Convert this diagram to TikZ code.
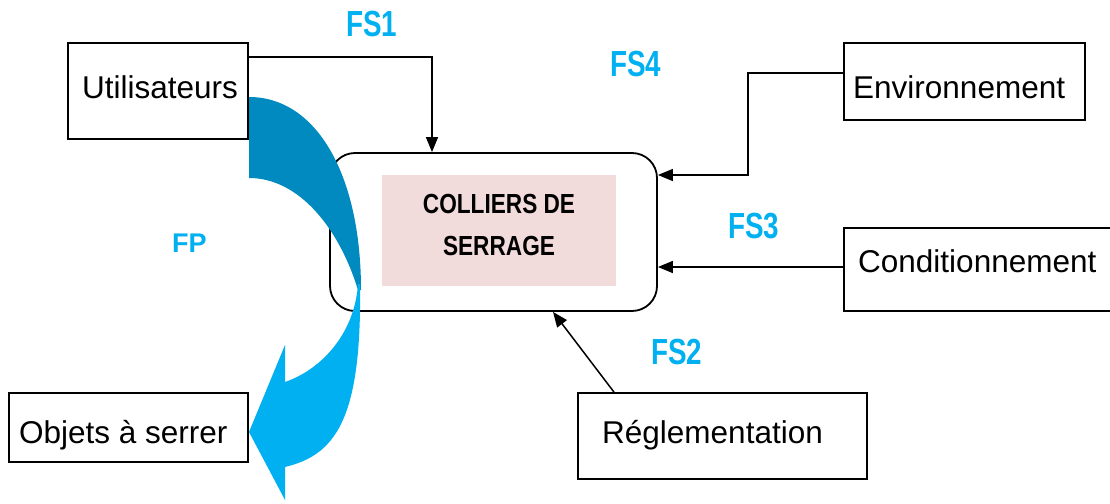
\documentclass[tikz,border=0pt]{standalone}
\usepackage{fontspec}
\setmainfont{Liberation Sans}
\usetikzlibrary{arrows.meta}
\definecolor{fscyan}{HTML}{00B0F0}
\definecolor{darkteal}{HTML}{008ABF}
\definecolor{pinkbg}{HTML}{F2DCDB}
\begin{document}
\begin{tikzpicture}[x=1pt,y=-1pt,
  box/.style={draw, line width=1.8pt, inner sep=0pt},
  lbl/.style={font=\fontsize{31.5pt}{38pt}\selectfont, anchor=base west, inner sep=0pt},
  fslbl/.style={text=fscyan, font=\fontsize{36.3pt}{40pt}\selectfont\bfseries, anchor=base west, inner sep=0pt},
  corelbl/.style={font=\fontsize{27.6pt}{34pt}\selectfont\bfseries, anchor=base, inner sep=0pt},
  conn/.style={line width=1.5pt, -{Triangle[length=15pt,width=12pt]}},
]
\useasboundingbox (0,0) rectangle (1110,503);

% boxes
\node[box, minimum width=180pt, minimum height=96pt] (util) at (158,91) {};
\node[box, minimum width=241pt, minimum height=77pt] (env) at (964.5,81.5) {};
\node[box, minimum width=271pt, minimum height=83pt] (cond) at (979.5,269.5) {};
\node[box, minimum width=289pt, minimum height=86pt] (regl) at (722.5,436) {};
\node[box, minimum width=239pt, minimum height=69pt] (obj) at (128.5,427.5) {};
\node[box, rounded corners=25pt, minimum width=327pt, minimum height=158pt] (main) at (493.5,232) {};
\node[fill=pinkbg, inner sep=0pt, minimum width=234pt, minimum height=111pt] (core) at (499,230.5) {};

% texts
\node[lbl] (utilt) at (82,98) {Utilisateurs};
\node[lbl] (envt) at (853,98) {Environnement};
\node[lbl] (condt) at (858,272) {Conditionnement};
\node[lbl] (reglt) at (602,443) {Réglementation};
\node[lbl] (objt) at (19,443) {Objets à serrer};
\node[corelbl] (col1) at (499,213) {\scalebox{0.82}[1]{COLLIERS DE}};
\node[corelbl] (col2) at (499,255) {\scalebox{0.82}[1]{SERRAGE}};

\node[fslbl] (fs1) at (346,37) {\scalebox{0.766}[1]{FS1}};
\node[fslbl] (fs4) at (610,77) {\scalebox{0.766}[1]{FS4}};
\node[fslbl] (fs3) at (728,238) {\scalebox{0.766}[1]{FS3}};
\node[fslbl] (fs2) at (651,364) {\scalebox{0.766}[1]{FS2}};
\node[fslbl, font=\fontsize{27pt}{32pt}\selectfont\bfseries] (fp) at (172,252) {FP};

% connectors
\coordinate (envbend) at (748,175);
\draw[conn] ([yshift=-15pt]util.north east) -| ([xshift=-61.5pt]main.north);
\draw[conn] ([yshift=8.5pt]env.west) -| (envbend) -- ([yshift=57pt]main.east);
\draw[conn] ([yshift=2.5pt]cond.west) -- ([yshift=-35pt]main.east);
\draw[conn] ([xshift=-108.5pt]regl.north) -- ([xshift=59.5pt]main.south);

% curved FP arrow
\fill[darkteal] (249,97) .. controls (316,97) and (361,174) .. (361,290)
  -- (358,290) .. controls (339,228) and (299,178) .. (249,178) -- cycle;
\fill[fscyan] (360,284) .. controls (362,420) and (335,455) .. (285,467)
  -- (285,500) -- (249,432) -- (285,345) -- (285,382)
  .. controls (325,368) and (355,330) .. (358,284) -- cycle;
\end{tikzpicture}
\end{document}
